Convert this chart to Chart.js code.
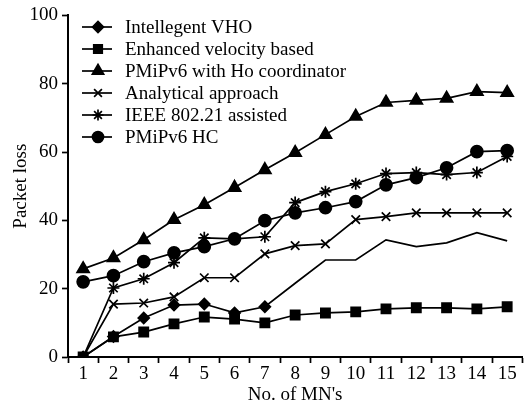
<!DOCTYPE html>
<html>
<head>
<meta charset="utf-8">
<script src="https://cdn.jsdelivr.net/npm/chart.js@4/dist/chart.umd.min.js"></script>
<style>
  html, body { margin: 0; padding: 0; background: #fff; }
  #wrap { width: 531px; height: 408px; position: relative; }
</style>
</head>
<body>
<div id="wrap"><canvas id="myChart"></canvas></div>
<script>
var categories = ["1","2","3","4","5","6","7","8","9","10","11","12","13","14","15"];
var yTicks = [0, 20, 40, 60, 80, 100];

var intellegentVHO = [0, 6, 11.4, 15.2, 15.5, 12.9, 14.7, 21.6, 28.4, 28.4, 34.3, 32.3, 33.4, 36.4, 34.0];
var enhancedVelocity = [0, 5.9, 7.3, 9.7, 11.7, 11.1, 10.0, 12.3, 12.9, 13.2, 14.1, 14.4, 14.4, 14.1, 14.7];
var pmipHoCoord = [25.8, 29.0, 34.3, 40.2, 44.6, 49.6, 54.8, 59.8, 65.1, 70.4, 74.5, 75.1, 75.7, 77.7, 77.4];
var analytical = [0, 15.5, 15.8, 17.6, 23.2, 23.2, 30.2, 32.6, 33.1, 40.2, 41.1, 42.2, 42.2, 42.2, 42.2];
var ieee80221 = [0, 20.2, 22.9, 27.6, 34.9, 34.6, 35.2, 45.2, 48.4, 50.7, 53.7, 54.0, 53.4, 54.0, 58.7];
var pmipHC = [22.0, 23.8, 27.9, 30.5, 32.3, 34.6, 39.9, 42.2, 43.7, 45.5, 50.4, 52.5, 55.4, 60.1, 60.4];

var font = "Liberation Serif";
var fontSize = 19;

// diamond markers only on the first 7 points
var vhoRadius = [];
for (var i = 0; i < categories.length; i++) {
    vhoRadius.push(i < 7 ? 5.5 : 0);
}

function serie(label, data, style, radius) {
    return {
        label: label,
        data: data,
        borderColor: "#000",
        backgroundColor: "#000",
        borderWidth: 1.7,
        pointStyle: style,
        pointRadius: radius,
        pointBorderWidth: 1.7,
        pointBorderColor: "#000",
        pointBackgroundColor: "#000",
        tension: 0,
        fill: false
    };
}

var datasets = [
    serie("Intellegent VHO", intellegentVHO, "rectRot", vhoRadius),
    serie("Enhanced velocity based", enhancedVelocity, "rect", 6.5),
    serie("PMiPv6 with Ho coordinator", pmipHoCoord, "triangle", 7),
    serie("Analytical approach", analytical, "crossRot", 6),
    serie("IEEE 802.21 assisted", ieee80221, "star", 6),
    serie("PMiPv6 HC", pmipHC, "circle", 6)
];

// legend drawn inside the plot, line with marker in the middle
const innerLegend = {
    id: "innerLegend",
    afterDraw(chart) {
        var ctx = chart.ctx;
        ctx.save();
        chart.data.datasets.forEach(function (ds, i) {
            var y = 27 + i * 22;
            ctx.strokeStyle = "#000";
            ctx.lineWidth = 1.7;
            ctx.beginPath();
            ctx.moveTo(82, y);
            ctx.lineTo(112, y);
            ctx.stroke();
            var r = i == 0 ? 5.5 : (i == 1 ? 6 : (i == 2 ? 6.5 : 5.5));
            Chart.helpers.drawPoint(ctx, {
                pointStyle: ds.pointStyle,
                radius: r,
                borderWidth: 1.7
            }, 98, y);
            ctx.fillStyle = "#000";
            ctx.font = fontSize + "px '" + font + "'";
            ctx.textBaseline = "middle";
            ctx.textAlign = "left";
            ctx.fillText(ds.label, 125, y + 1);
        });
        ctx.restore();
    }
};

const myChart = new Chart(document.getElementById("myChart"), {
    type: "line",
    data: { labels: categories, datasets: datasets },
    plugins: [innerLegend],
    options: {
        responsive: true,
        maintainAspectRatio: false,
        animation: false,
        layout: { padding: { top: 14, right: 4, left: 0, bottom: 0 } },
        plugins: {
            legend: { display: false },
            tooltip: { enabled: false }
        },
        scales: {
            x: {
                type: "category",
                offset: true,
                grid: {
                    offset: true,
                    drawOnChartArea: false,
                    drawTicks: true,
                    tickLength: 6,
                    tickWidth: 1.7,
                    tickColor: "#000"
                },
                border: { color: "#000", width: 2 },
                ticks: {
                    color: "#000",
                    font: { family: font, size: fontSize },
                    padding: 0,
                    maxRotation: 0,
                    autoSkip: false
                },
                title: {
                    display: true,
                    text: "No. of MN's",
                    color: "#000",
                    font: { family: font, size: fontSize },
                    padding: { top: 0, bottom: 2 }
                },
                afterFit: function (s) { s.height = 51; }
            },
            y: {
                min: 0,
                max: 100,
                afterBuildTicks: function (s) {
                    s.ticks = yTicks.map(function (v) { return { value: v }; });
                },
                grid: {
                    drawOnChartArea: false,
                    drawTicks: true,
                    tickLength: 6,
                    tickWidth: 1.7,
                    tickColor: "#000"
                },
                border: { color: "#000", width: 2 },
                ticks: {
                    color: "#000",
                    font: { family: font, size: fontSize },
                    padding: 4
                },
                title: {
                    display: true,
                    text: "Packet loss",
                    color: "#000",
                    font: { family: font, size: fontSize },
                    padding: { top: 10, bottom: 0 }
                },
                afterFit: function (s) { s.width = 68; }
            }
        }
    }
});
</script>
</body>
</html>
